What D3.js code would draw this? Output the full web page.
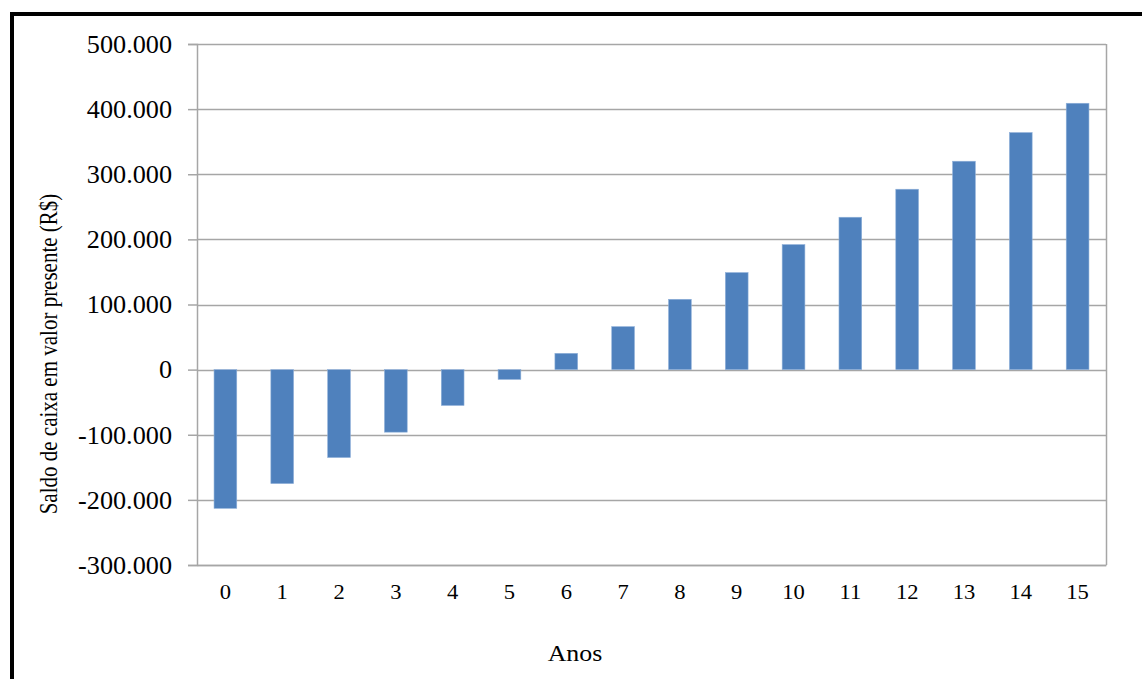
<!DOCTYPE html>
<html><head><meta charset="utf-8">
<script src="https://cdn.jsdelivr.net/npm/d3@7"></script>
<style>body{margin:0;background:#fff}svg{display:block}text{font-family:"Liberation Serif","Times New Roman",serif;fill:#000}</style>
</head><body>
<svg id="c" width="1142" height="679"></svg>
<script>
const years = ["0","1","2","3","4","5","6","7","8","9","10","11","12","13","14","15"];
const values = [-213000,-175000,-135000,-96000,-55000,-15000,25000,66000,108000,149000,192000,234000,277000,320000,364000,409000];
const yTicks = [-300000,-200000,-100000,0,100000,200000,300000,400000,500000];
const yTitle = "Saldo de caixa em valor presente (R$)";
const xTitle = "Anos";

const svg = d3.select("#c");
const m = {l:197, r:1106, t:44, b:565};
// outer frame
svg.append("path").attr("d","M12,700 L12,14 L1160,14").attr("fill","none").attr("stroke","#000").attr("stroke-width",4);

const x = d3.scaleBand().domain(years).range([m.l,m.r]).paddingInner(0.6).paddingOuter(0.3);
const y = d3.scaleLinear().domain([-300000,500000]).range([m.b,m.t]);
const fmt = v => (v<0?"-":"") + d3.format(",")(Math.abs(v)).replace(/,/g,".");

function stretch(sel, k){ sel.each(function(){ const w=this.getComputedTextLength(); d3.select(this).attr("textLength",w*k).attr("lengthAdjust","spacingAndGlyphs"); }); }

// gridlines
svg.append("g").selectAll("line").data(yTicks).join("line")
  .attr("x1",m.l).attr("x2",m.r).attr("y1",d=>Math.round(y(d))+0.5).attr("y2",d=>Math.round(y(d))+0.5)
  .attr("stroke","#a6a6a6").attr("stroke-width",1.5);
// right border
svg.append("line").attr("x1",m.r+0.5).attr("x2",m.r+0.5).attr("y1",m.t).attr("y2",m.b).attr("stroke","#a6a6a6").attr("stroke-width",1.5);

// bars
svg.append("g").selectAll("rect").data(values).join("rect")
  .attr("x",(d,i)=>x(years[i])).attr("width",x.bandwidth())
  .attr("y",d=>y(Math.max(0,d))).attr("height",d=>Math.abs(y(d)-y(0)))
  .attr("fill","#4f81bd").attr("stroke","#8fb0d9").attr("stroke-width",0.6);

// y axis
const ya = d3.axisLeft(y).tickValues(yTicks).tickFormat(fmt).tickSize(9).tickPadding(16);
const gy = svg.append("g").attr("transform",`translate(${m.l},0)`).call(ya);
gy.select(".domain").attr("stroke","#a6a6a6").attr("stroke-width",1.5);
gy.selectAll(".tick line").attr("stroke","#a6a6a6").attr("stroke-width",1.5);
gy.selectAll("text").style("font-size","24.5px").style("font-family","Liberation Serif").attr("fill","#000").attr("dy","0.34em");
stretch(gy.selectAll("text"), 1.07);

// x axis
const xa = d3.axisBottom(x).tickSize(0).tickPadding(19);
const gx = svg.append("g").attr("transform",`translate(0,${m.b})`).call(xa);
gx.select(".domain").attr("stroke","#a6a6a6").attr("stroke-width",1.5);
gx.selectAll("text").style("font-size","21.5px").style("font-family","Liberation Serif").attr("fill","#000");
stretch(gx.selectAll("text"), 1.05);

// titles
svg.append("text").attr("transform",`translate(57,${354}) rotate(-90) scale(1,1.2)`).attr("text-anchor","middle")
  .style("font-size","21px").text(yTitle);
const xt = svg.append("text").attr("x",575).attr("y",661).attr("text-anchor","middle").style("font-size","22.5px").text(xTitle);
stretch(xt, 1.15);
</script>
</body></html>
